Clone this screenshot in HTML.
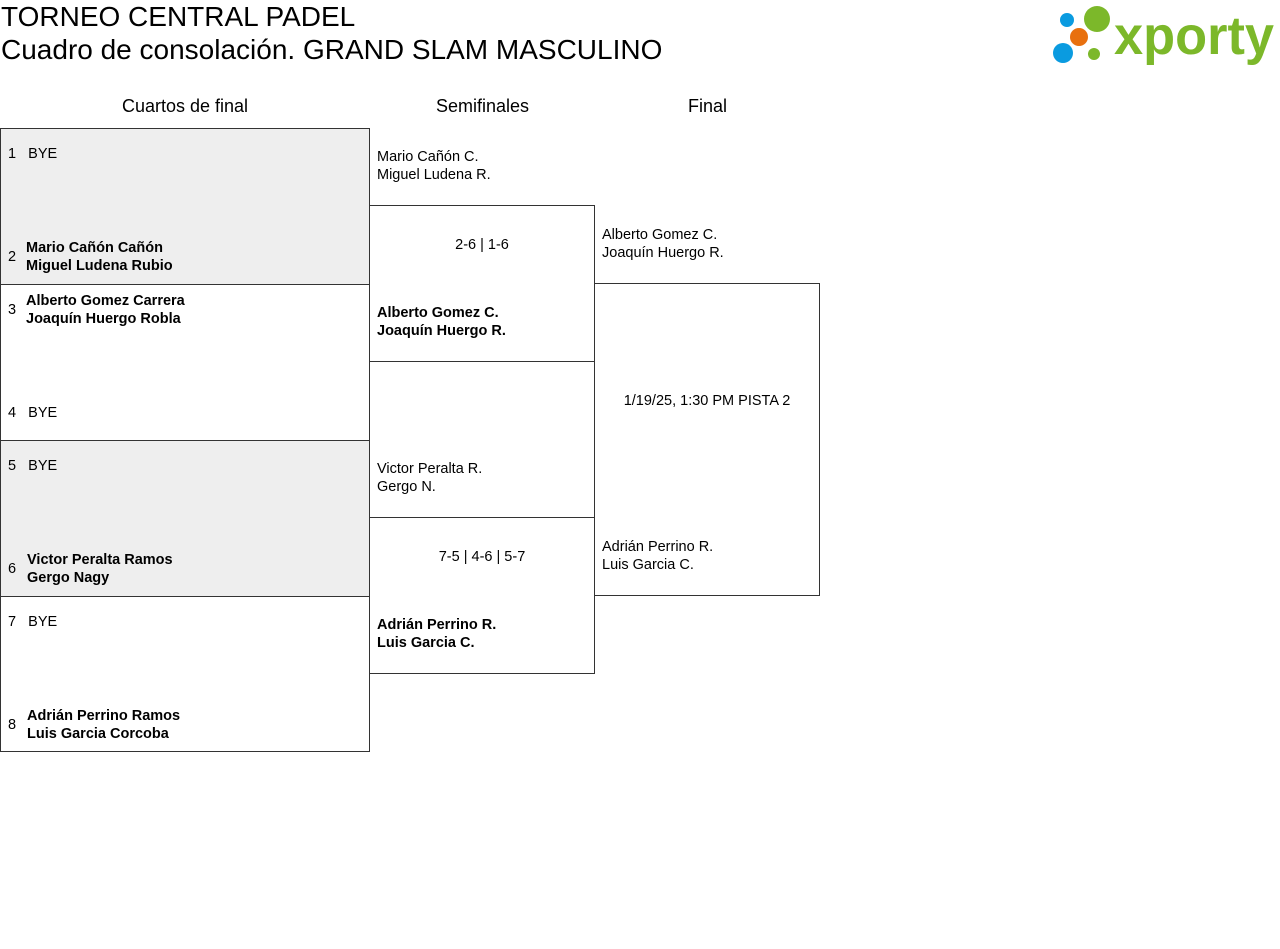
<!DOCTYPE html>
<html><head><meta charset="utf-8"><style>
body{margin:0;width:1280px;height:949px;background:#fff;font-family:"Liberation Sans",sans-serif;color:#000;position:relative;overflow:hidden}
div{position:absolute}
.t{font-size:28px;left:1px;white-space:nowrap}
.h{font-size:18px;text-align:center;top:96px}
.b{border:1px solid #333;box-sizing:border-box}
.g{background:#eee}
.n{font-size:14.5px;line-height:18px;white-space:nowrap}
.s{font-weight:bold;font-size:14.5px}
</style></head><body>
<div class="t" style="top:1px">TORNEO CENTRAL PADEL</div>
<div class="t" style="top:34px">Cuadro de consolación. GRAND SLAM MASCULINO</div>
<svg style="position:absolute;left:1050px;top:4px" width="226" height="62">
<circle cx="17" cy="16" r="7" fill="#0a9be0"/>
<circle cx="47" cy="15" r="13" fill="#7cb82a"/>
<circle cx="29" cy="33" r="9" fill="#e8700f"/>
<circle cx="13" cy="49" r="10" fill="#0a9be0"/>
<circle cx="44" cy="50" r="6" fill="#7cb82a"/>
<text x="64" y="50" font-family="Liberation Sans" font-weight="bold" font-size="54" fill="#7cb82a" textLength="160" lengthAdjust="spacingAndGlyphs">xporty</text>
</svg>
<div class="h" style="left:0;width:370px">Cuartos de final</div>
<div class="h" style="left:370px;width:225px">Semifinales</div>
<div class="h" style="left:595px;width:225px">Final</div>

<div class="b g" style="left:0;top:128px;width:370px;height:157px"></div>
<div class="b" style="left:0;top:284px;width:370px;height:157px"></div>
<div class="b g" style="left:0;top:440px;width:370px;height:157px"></div>
<div class="b" style="left:0;top:596px;width:370px;height:156px"></div>
<div class="b" style="left:369px;top:205px;width:226px;height:157px"></div>
<div class="b" style="left:369px;top:517px;width:226px;height:157px"></div>
<div class="b" style="left:594px;top:283px;width:226px;height:313px"></div>

<div class="n" style="left:8px;top:145px">1&nbsp;&nbsp;&nbsp;BYE</div>
<div class="n" style="left:8px;top:248px">2</div>
<div class="n s" style="left:26px;top:239px">Mario Cañón Cañón<br>Miguel Ludena Rubio</div>
<div class="n" style="left:8px;top:301px">3</div>
<div class="n s" style="left:26px;top:292px">Alberto Gomez Carrera<br>Joaquín Huergo Robla</div>
<div class="n" style="left:8px;top:404px">4&nbsp;&nbsp;&nbsp;BYE</div>
<div class="n" style="left:8px;top:457px">5&nbsp;&nbsp;&nbsp;BYE</div>
<div class="n" style="left:8px;top:560px">6</div>
<div class="n s" style="left:27px;top:551px">Victor Peralta Ramos<br>Gergo Nagy</div>
<div class="n" style="left:8px;top:613px">7&nbsp;&nbsp;&nbsp;BYE</div>
<div class="n" style="left:8px;top:716px">8</div>
<div class="n s" style="left:27px;top:707px">Adrián Perrino Ramos<br>Luis Garcia Corcoba</div>

<div class="n" style="left:377px;top:148px">Mario Cañón C.<br>Miguel Ludena R.</div>
<div class="n" style="left:369px;width:226px;text-align:center;top:236px">2-6 | 1-6</div>
<div class="n s" style="left:377px;top:304px">Alberto Gomez C.<br>Joaquín Huergo R.</div>
<div class="n" style="left:377px;top:460px">Victor Peralta R.<br>Gergo N.</div>
<div class="n" style="left:369px;width:226px;text-align:center;top:548px">7-5 | 4-6 | 5-7</div>
<div class="n s" style="left:377px;top:616px">Adrián Perrino R.<br>Luis Garcia C.</div>

<div class="n" style="left:602px;top:226px">Alberto Gomez C.<br>Joaquín Huergo R.</div>
<div class="n" style="left:594px;width:226px;text-align:center;top:392px">1/19/25, 1:30 PM PISTA 2</div>
<div class="n" style="left:602px;top:538px">Adrián Perrino R.<br>Luis Garcia C.</div>
</body></html>
